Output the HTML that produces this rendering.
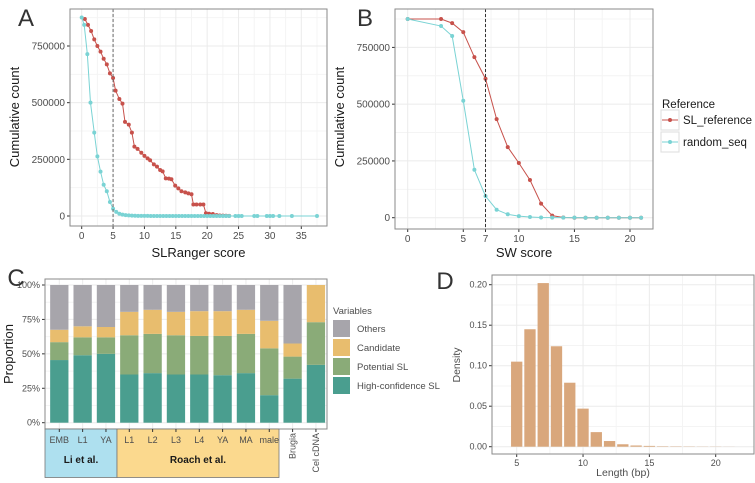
<!DOCTYPE html>
<html><head><meta charset="utf-8">
<style>
html,body{margin:0;padding:0;background:#fff;}
svg{display:block;font-family:"Liberation Sans",Arial,sans-serif;}
.tk{font-size:10px;fill:#4d4d4d;}
.tks{font-size:9px;fill:#4d4d4d;}
.at{font-size:13px;fill:#1a1a1a;}
.lg{font-size:11.5px;fill:#1a1a1a;}
.pl{font-size:24px;fill:#333;}
</style></head>
<body>
<svg id="fig" width="755" height="483" viewBox="0 0 755 483" xmlns="http://www.w3.org/2000/svg"></svg>
<script>
// Panel A data
const aRedX=[0.5,1,1.5,2,2.5,3,3.5,4,4.5,5,5.4,6,6.5,6.9,7.5,8,8.4,8.9,9.5,10,10.5,10.9,11.5,12,12.5,12.9,13.4,13.9,14.3,14.9,15.4,15.9,16.5,17,17.5,17.8,18.3,18.9,19.4,19.8,20.3,20.9,21.5,22,22.5,23,23.5];
const aRedY=[869000,843000,816000,779000,750000,725000,694000,669000,629000,609000,553000,516000,496000,415000,403000,368000,306000,296000,279000,265000,254000,246000,228000,218000,203000,197000,166000,165000,162000,134000,122000,109000,104000,100000,96000,51000,51000,51000,51000,12000,10000,9000,4000,2000,1500,1000,500];
const aCyX=[0,0.4,0.9,1.4,2,2.5,3,3.5,4,4.5,5,5.5,6,6.5,7,7.5,8,8.5,9,9.5,10,10.5,11,11.5,12,12.5,13,13.5,14,14.5,15,15.5,16,16.5,17,17.5,18,18.5,19,19.5,20,20.5,21,21.5,22,22.5,23,23.5,24.5,25,25.5,27.5,28,29.5,30,30.5,31.5,33.5,37.5];
const aCyY=[876000,843000,714000,500000,368000,263000,196000,138000,109000,62000,32000,18000,10000,6000,4000,2500,1500,1000,700,500,400,300,200,150,100,80,60,50,40,30,20,20,10,10,10,10,5,5,5,5,5,5,5,5,0,0,0,0,0,0,0,0,0,0,0,0,0,0,0];
const aXTicks=[0,5,10,15,20,25,30,35];
const aYTicks=[0,250000,500000,750000];
// Panel B data
const bX=[0,3,4,5,6,7,8,9,10,11,12,13,14,15,16,17,18,19,20,21];
const bRed=[875000,875000,857000,817000,707000,612000,434000,311000,241000,166000,62000,9000,1000,0,0,0,0,0,0,0];
const bCy=[875000,844000,800000,515000,211000,95000,35000,15000,7000,3000,1000,500,200,100,0,0,0,0,0,0];
const bXTicks=[0,5,7,10,15,20];
// Panel C data (percent)
const cCats=["EMB","L1","YA","L1","L2","L3","L4","YA","MA","male","Brugia","Cel cDNA"];
const cHigh=[45.5,49,50,35,36,35,35,34.5,36,20,32,42];
const cPot=[13,13,12,28.5,28.5,28.5,28,28.5,28.5,34,16,31];
const cCand=[9,8,7.5,17,17.5,17,18,18,17.5,20,9.5,27];
const cOth=[32.5,30,30.5,19.5,18,19.5,19,19,18,26,42.5,0];
const cYTicks=[0,25,50,75,100];
// Panel D data
const dX=[5,6,7,8,9,10,11,12,13,14,15,16,17,18,19,20,21];
const dY=[0.105,0.145,0.202,0.124,0.079,0.047,0.018,0.007,0.003,0.0015,0.001,0.0005,0.0004,0.0003,0.0002,0.0002,0.0001];
const dXTicks=[5,10,15,20];
const dYTicks=[0,0.05,0.1,0.15,0.2];

const NS="http://www.w3.org/2000/svg";
const svg=document.getElementById('fig');
function mk(tag,attrs,parent){const e=document.createElementNS(NS,tag);for(const k in attrs)e.setAttribute(k,attrs[k]);(parent||svg).appendChild(e);return e;}
function txt(s,x,y,cls,anchor,parent,rot){const t=mk('text',{x:x,y:y,'class':cls,'text-anchor':anchor||'middle'},parent);if(rot)t.setAttribute('transform','rotate(-90 '+x+' '+y+')');t.textContent=s;return t;}
const RED="#c7514b",CY="#7ad3d4",GRID="#ebebeb",MINOR="#f4f4f4",BORDER="#8a8a8a";

function panel(name,L,R,T,B){const g=mk('g',{});mk('rect',{x:L,y:T,width:R-L,height:B-T,fill:'#fff'},g);return g;}
function frame(g,L,R,T,B){mk('rect',{x:L,y:T,width:R-L,height:B-T,fill:'none',stroke:BORDER,'stroke-width':1},g);}

// ---------- Panel A ----------
(function(){
 const L=70,R=327,T=9,B=226;
 const sx=v=>81.7+v*(301.3-81.7)/35, sy=v=>216-v*(170/750000);
 const g=panel('panel-a',L,R,T,B);
 for(const t of aXTicks){mk('line',{x1:sx(t+2.5),x2:sx(t+2.5),y1:T,y2:B,stroke:MINOR},g);}
 for(const t of aYTicks){mk('line',{x1:L,x2:R,y1:sy(t+125000),y2:sy(t+125000),stroke:MINOR},g);}
 for(const t of aXTicks){mk('line',{x1:sx(t),x2:sx(t),y1:T,y2:B,stroke:GRID},g);mk('line',{x1:sx(t),x2:sx(t),y1:B,y2:B+3,stroke:'#333'},g);txt(String(t),sx(t),B+13,'tk','middle',g);}
 for(const t of aYTicks){mk('line',{x1:L,x2:R,y1:sy(t),y2:sy(t),stroke:GRID},g);mk('line',{x1:L-3,x2:L,y1:sy(t),y2:sy(t),stroke:'#333'},g);txt(String(t),L-5,sy(t)+3.5,'tk','end',g);}
 const red=mk('polyline',{points:aRedX.map((x,i)=>sx(x)+','+sy(aRedY[i])).join(' '),fill:'none',stroke:RED,'stroke-width':1},g);
 
 aRedX.forEach((x,i)=>{mk('circle',{cx:sx(x),cy:sy(aRedY[i]),r:2,fill:RED},g);});
 const cy=mk('polyline',{points:aCyX.map((x,i)=>sx(x)+','+sy(aCyY[i])).join(' '),fill:'none',stroke:CY,'stroke-width':1},g);
 
 aCyX.forEach((x,i)=>{mk('circle',{cx:sx(x),cy:sy(aCyY[i]),r:2,fill:CY},g);});
 const d=mk('line',{x1:sx(5),x2:sx(5),y1:T,y2:B,stroke:'#666','stroke-dasharray':'3,2'},g);
 
 frame(g,L,R,T,B);
 txt('SLRanger score',(L+R)/2,257,'at','middle',g);
 txt('Cumulative count',19,117,'at','middle',g,true);
 txt('A',26,26,'pl','middle',g);
})();

// ---------- Panel B ----------
(function(){
 const L=395,R=653,T=9,B=229;
 const sx=v=>407.7+v*(630-407.7)/20, sy=v=>217.7-v*(170.3/750000);
 const g=panel('panel-b',L,R,T,B);
 for(const t of [2.5,7.5,12.5,17.5]){mk('line',{x1:sx(t),x2:sx(t),y1:T,y2:B,stroke:MINOR},g);}
 for(const t of aYTicks){mk('line',{x1:L,x2:R,y1:sy(t+125000),y2:sy(t+125000),stroke:MINOR},g);}
 for(const t of bXTicks){mk('line',{x1:sx(t),x2:sx(t),y1:T,y2:B,stroke:GRID},g);mk('line',{x1:sx(t),x2:sx(t),y1:B,y2:B+3,stroke:'#333'},g);txt(String(t),sx(t),B+13,'tk','middle',g);}
 for(const t of aYTicks){mk('line',{x1:L,x2:R,y1:sy(t),y2:sy(t),stroke:GRID},g);mk('line',{x1:L-3,x2:L,y1:sy(t),y2:sy(t),stroke:'#333'},g);txt(String(t),L-5,sy(t)+3.5,'tk','end',g);}
 const red=mk('polyline',{points:bX.map((x,i)=>sx(x)+','+sy(bRed[i])).join(' '),fill:'none',stroke:RED,'stroke-width':1},g);
 
 bX.forEach((x,i)=>{mk('circle',{cx:sx(x),cy:sy(bRed[i]),r:2,fill:RED},g);});
 const cy=mk('polyline',{points:bX.map((x,i)=>sx(x)+','+sy(bCy[i])).join(' '),fill:'none',stroke:CY,'stroke-width':1},g);
 
 bX.forEach((x,i)=>{mk('circle',{cx:sx(x),cy:sy(bCy[i]),r:2,fill:CY},g);});
 const d=mk('line',{x1:sx(7),x2:sx(7),y1:T,y2:B,stroke:'#333','stroke-dasharray':'3,2'},g);
 
 frame(g,L,R,T,B);
 txt('SW score',(L+R)/2,257,'at','middle',g);
 txt('Cumulative count',344,117,'at','middle',g,true);
 txt('B',365,26,'pl','middle',g);
 const lg=mk('g',{});
 txt('Reference',662,108,'lg','start',lg);
 [[RED,'SL_reference',120],[CY,'random_seq',142]].forEach(([c,s,y])=>{
  const e=mk('g',{},lg);
  mk('rect',{x:661,y:y-10,width:18,height:20,fill:'#fff',stroke:'#ddd'},e);
  mk('line',{x1:662,x2:678,y1:y,y2:y,stroke:c},e);mk('circle',{cx:670,cy:y,r:2,fill:c},e);
  txt(s,683,y+4,'lg','start',e);
 });
})();

// ---------- Panel C ----------
(function(){
 const L=45,R=327,T=279,B=429;
 const sx=i=>59.3+i*23.33, sy=v=>422.7-v*(137.7/100), bw=18.3;
 const g=panel('panel-c',L,R,T,B);
 for(const t of [12.5,37.5,62.5,87.5]){mk('line',{x1:L,x2:R,y1:sy(t),y2:sy(t),stroke:MINOR},g);}
 for(const t of cYTicks){mk('line',{x1:L,x2:R,y1:sy(t),y2:sy(t),stroke:GRID},g);mk('line',{x1:L-3,x2:L,y1:sy(t),y2:sy(t),stroke:'#333'},g);txt(t+'%',L-5,sy(t)+3,'tks','end',g);}
 cCats.forEach((c,i)=>{mk('line',{x1:sx(i),x2:sx(i),y1:T,y2:B,stroke:GRID},g);});
 const cols=["#4a9e8f","#8aab78","#e8bd6e","#a7a5ab"], names=["high-confidence","potential","candidate","others"];
 const series=[cHigh,cPot,cCand,cOth];
 cCats.forEach((c,i)=>{let base=0;series.forEach((s,k)=>{const v=s[i];if(v>0){const r=mk('rect',{x:sx(i)-bw/2,y:sy(base+v),width:bw,height:sy(base)-sy(base+v),fill:cols[k]},g);
   }base+=v;});});
 frame(g,L,R,T,B);
 mk('rect',{x:45,y:429,width:72,height:48.5,fill:'#aee0ef',stroke:'#777','stroke-width':0.8},g);
 mk('rect',{x:117,y:429,width:162,height:48.5,fill:'#fbd98e',stroke:'#777','stroke-width':0.8},g);
 cCats.forEach((c,i)=>{mk('line',{x1:sx(i),x2:sx(i),y1:B,y2:B+3,stroke:'#333'},g);
   if(i<10)txt(c,sx(i),443,'tks','middle',g);else{txt(c,sx(i)+3,433,'tks','end',g,true);}});
 const la=txt('Li et al.',81,463,'at','middle',g);la.setAttribute('font-weight','bold');la.style.fontSize='10px';
 const ra=txt('Roach et al.',198,463,'at','middle',g);ra.setAttribute('font-weight','bold');ra.style.fontSize='10px';
 txt('Proportion',13,354,'at','middle',g,true);
 txt('C',16,286,'pl','middle',g);
 const lg=mk('g',{});
 txt('Variables',333,314,'tk','start',lg).style.fontSize='9.5px';
 [["#a7a5ab","Others"],["#e8bd6e","Candidate"],["#8aab78","Potential SL"],["#4a9e8f","High-confidence SL"]].forEach(([c,s],k)=>{
  const e=mk('g',{},lg);
  mk('rect',{x:333,y:320+k*19,width:17,height:17,fill:c},e);
  txt(s,357,332+k*19,'tk','start',e).style.fontSize='9.5px';
 });
})();

// ---------- Panel D ----------
(function(){
 const L=492,R=754,T=275,B=454;
 const sx=v=>516.7+(v-5)*(715.7-516.7)/15, sy=v=>446.7-v*(162/0.2), bw=11.3;
 const g=panel('panel-d',L,R,T,B);
 for(const t of [7.5,12.5,17.5]){mk('line',{x1:sx(t),x2:sx(t),y1:T,y2:B,stroke:MINOR},g);}
 for(const t of [0.025,0.075,0.125,0.175]){mk('line',{x1:L,x2:R,y1:sy(t),y2:sy(t),stroke:MINOR},g);}
 for(const t of dXTicks){mk('line',{x1:sx(t),x2:sx(t),y1:T,y2:B,stroke:GRID},g);mk('line',{x1:sx(t),x2:sx(t),y1:B,y2:B+3,stroke:'#333'},g);txt(String(t),sx(t),B+12,'tks','middle',g);}
 for(const t of dYTicks){mk('line',{x1:L,x2:R,y1:sy(t),y2:sy(t),stroke:GRID},g);mk('line',{x1:L-3,x2:L,y1:sy(t),y2:sy(t),stroke:'#333'},g);txt(t.toFixed(2),L-5,sy(t)+3,'tks','end',g);}
 dX.forEach((x,i)=>{const r=mk('rect',{x:sx(x)-bw/2,y:sy(dY[i]),width:bw,height:sy(0)-sy(dY[i]),fill:'#d9a77c'},g);
  });
 frame(g,L,R,T,B);
 const xl=txt('Length (bp)',623,476,'tk','middle',g);xl.style.fontSize='10.5px';
 const yl=txt('Density',460,365,'tk','middle',g,true);yl.style.fontSize='10.5px';
 txt('D',445,289,'pl','middle',g);
})();
</script>
</body></html>
